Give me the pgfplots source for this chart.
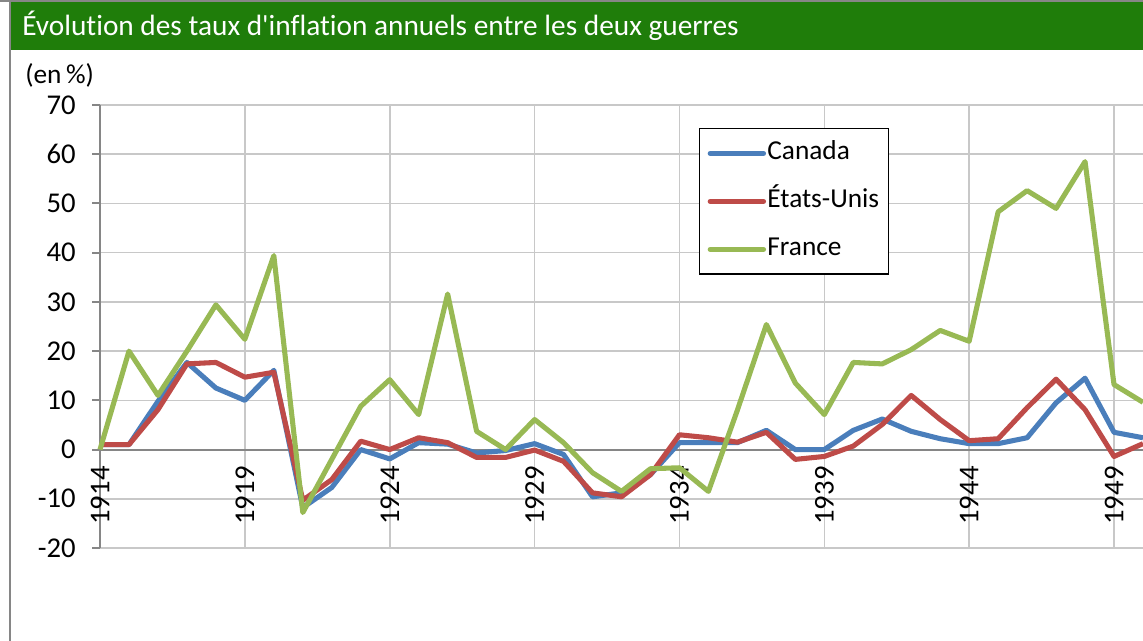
\documentclass[border=0pt]{standalone}
\usepackage{pgfplots}
\pgfplotsset{compat=1.18}
\usepackage{pgfplotstable}
\usepackage{fontspec}
\setmainfont{Carlito}[Ligatures={TeXOff,CommonOff}]
\definecolor{titlegreen}{RGB}{31,125,10}
\definecolor{can}{RGB}{74,126,187}
\definecolor{us}{RGB}{190,75,72}
\definecolor{fr}{RGB}{152,185,84}
\definecolor{gridgray}{RGB}{200,200,200}
\definecolor{axisgray}{RGB}{134,134,134}
\pgfplotstableread{
year can us fr
1914 1.0 1.0 0.0
1915 1.0 1.0 20.0
1916 9.8 8.1 11.0
1917 17.7 17.4 20.0
1918 12.5 17.7 29.4
1919 10.0 14.7 22.4
1920 16.1 15.7 39.4
1921 -11.8 -10.3 -12.8
1922 -7.7 -6.1 -2.0
1923 0.0 1.7 8.8
1924 -1.9 0.0 14.2
1925 1.4 2.4 7.1
1926 1.1 1.4 31.6
1927 -0.7 -1.6 3.7
1928 -0.2 -1.6 0.0
1929 1.2 -0.1 6.1
1930 -1.0 -2.4 1.4
1931 -9.6 -8.8 -4.7
1932 -8.8 -9.6 -8.5
1933 -5.1 -5.1 -3.9
1934 1.4 3.0 -3.7
1935 1.4 2.4 -8.5
1936 1.4 1.5 8.0
1937 3.9 3.5 25.4
1938 0.0 -2.0 13.5
1939 0.0 -1.4 7.1
1940 3.9 0.7 17.7
1941 6.2 5.1 17.4
1942 3.7 11.0 20.3
1943 2.2 6.1 24.2
1944 1.2 1.8 22.0
1945 1.2 2.2 48.3
1946 2.4 8.5 52.6
1947 9.5 14.3 49.0
1948 14.5 8.1 58.5
1949 3.5 -1.4 13.2
1950 2.4 1.2 9.6
}\data
\begin{document}
\begin{tikzpicture}
\useasboundingbox (0,0) rectangle (857.25pt,480.75pt);
\fill[titlegreen] (7.5pt,443pt) rectangle (857.25pt,480pt);
\draw[axisgray, line width=1.5pt] (0,480pt) -- (857.25pt,480pt);
\draw[axisgray, line width=1.5pt] (7.5pt,0) -- (7.5pt,480.75pt);
\node[anchor=base west, inner sep=0pt, text=white, font=\fontsize{22}{24}\selectfont] at (16.5pt,453.75pt) {Évolution des taux d'inflation annuels entre les deux guerres};
\node[anchor=base west, inner sep=0pt, font=\fontsize{20.5}{24}\selectfont] at (18.75pt,417.75pt) {(en\,\%)};
\begin{axis}[
  at={(75pt,69.75pt)}, anchor=south west,
  scale only axis, width=782.25pt, height=332.25pt,
  xmin=1914, xmax=1950, ymin=-20, ymax=70,
  axis x line=middle, axis y line=left,
  axis line style={-, draw=axisgray, line width=1.5pt},
  hide obscured x ticks=false, hide obscured y ticks=false,
  xtick={1914,1919,1924,1929,1934,1939,1944,1949},
  xticklabels={1914,1919,1924,1929,1934,1939,1944,1949},
  ytick={-20,-10,0,10,20,30,40,50,60,70},
  yticklabels={-20,-10,0,10,20,30,40,50,60,70},
  grid=major, major grid style={gridgray, line width=1.2pt},
  x tick style={draw=none},
  y tick style={draw=axisgray, line width=1.5pt},
  tick align=outside, major tick length=6pt,
  ticklabel style={font=\fontsize{21.5}{24}\selectfont},
  xticklabel style={yshift=-6.5pt, rotate=90, anchor=east, inner sep=0pt},
  yticklabel style={anchor=east, inner sep=0pt, xshift=-12pt},
  clip=false,
  legend style={at={(0.5743,0.948)}, anchor=north west, draw=black, line width=1pt, fill=white,
    font=\fontsize{20.5}{22}\selectfont, row sep=17pt, inner xsep=6pt, inner ysep=9pt,
    nodes={inner sep=1pt, text height=13pt, text depth=4pt}},
  legend cell align=left,
  legend image code/.code={\draw[line width=3.8pt, line cap=round] (0pt,0pt) -- (40pt,0pt);},
]
\addplot[can, line width=3.8pt, line join=round] table[x=year,y=can]{\data};
\addplot[us, line width=3.8pt, line join=round] table[x=year,y=us]{\data};
\addplot[fr, line width=3.8pt, line join=round] table[x=year,y=fr]{\data};
\legend{Canada,États-Unis,France}
\end{axis}
\end{tikzpicture}
\end{document}
